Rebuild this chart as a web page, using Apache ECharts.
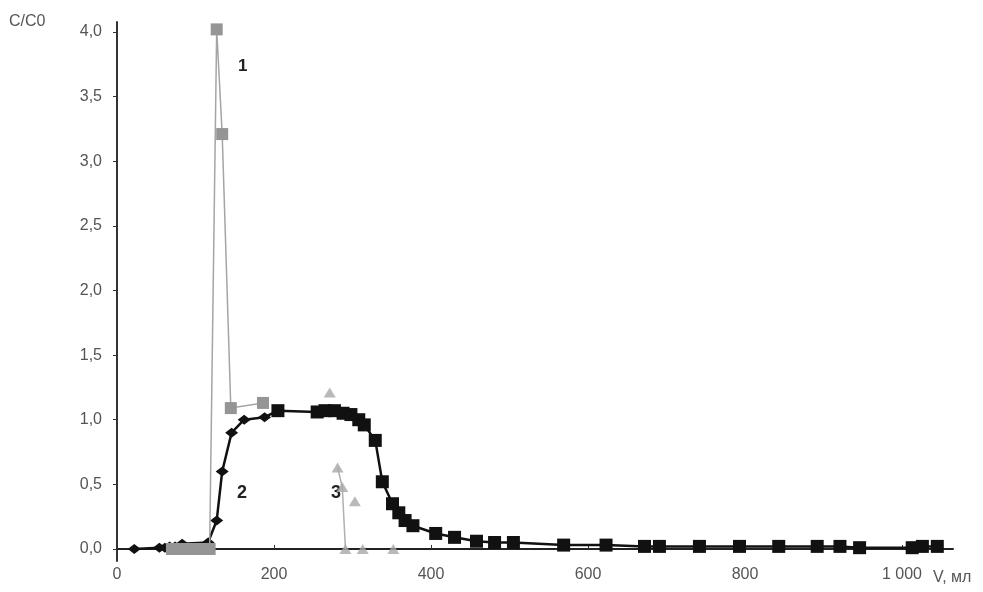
<!DOCTYPE html>
<html><head><meta charset="utf-8">
<script src="https://cdn.jsdelivr.net/npm/echarts@6/dist/echarts.min.js"></script>
<style>html,body{margin:0;padding:0;background:#fff}#c{width:983px;height:592px}</style>
</head><body><div id="c"></div>
<script>
const xTicks = [0, 200, 400, 600, 800, 1000];
const yTicks = [0, 0.5, 1, 1.5, 2, 2.5, 3, 3.5, 4];
const series1 = [[70,0],[78,0],[86,0],[94,0],[102,0],[110,0],[118,0],[127,4.02],[134,3.21],[145,1.09],[186,1.13]];
const series2Diamonds = [[22,0],[54,0.01],[61,0.01],[67,0.02],[74,0.02],[83,0.04],[116,0.05],[127,0.22],[134,0.6],[146,0.9],[162,1.0],[188,1.02]];
const series2Squares = [[205,1.07],[255,1.06],[265,1.07],[277,1.07],[288,1.05],[298,1.04],[308,1.0],[315,0.96],[329,0.84],[338,0.52],[351,0.35],[359,0.28],[367,0.22],[377,0.18],[406,0.12],[430,0.09],[458,0.06],[481,0.05],[505,0.05],[569,0.03],[623,0.03],[672,0.02],[691,0.02],[742,0.02],[793,0.02],[843,0.02],[892,0.02],[921,0.02],[946,0.01],[1013,0.01],[1026,0.02],[1045,0.02]];
const series3Points = [[271,1.21],[281,0.63],[287,0.48],[291,0],[303,0.37],[313,0],[352,0]];
const series3Line = [[281,0.63],[287,0.48],[291,0]];

const chart = echarts.init(document.getElementById('c'));
const labelFont = 'Liberation Sans, Arial, sans-serif';
const s2data = series2Diamonds.map(p => ({value: p, symbol: 'diamond', symbolSize: [13, 10]}))
  .concat(series2Squares.map(p => ({value: p, symbol: 'rect', symbolSize: 13})));

chart.setOption({
  animation: false,
  backgroundColor: '#fff',
  grid: {left: 117, right: 30, top: 22, bottom: 31},
  xAxis: {
    type: 'value', min: 0, max: 1065,
    axisLine: {lineStyle: {color: '#222', width: 2}},
    axisTick: {inside: true, length: 4, lineStyle: {color: '#333'}, customValues: xTicks},
    axisLabel: {customValues: xTicks, color: '#555', fontSize: 16, fontFamily: labelFont, margin: 6,
      formatter: v => v >= 1000 ? '1 000' : String(v)},
    splitLine: {show: false}
  },
  yAxis: {
    type: 'value', min: -0.093, max: 4.077,
    axisLine: {show: true, lineStyle: {color: '#333', width: 2}},
    axisTick: {show: true, inside: false, length: 4, lineStyle: {color: '#333'}, customValues: yTicks},
    axisLabel: {customValues: yTicks, color: '#555', fontSize: 16, fontFamily: labelFont, margin: 15,
      formatter: v => v.toFixed(1).replace('.', ',')},
    splitLine: {show: false}
  },
  graphic: [
    {type: 'text', left: 9, top: 14, style: {text: 'C/C0', font: '16px ' + labelFont, fill: '#555'}},
    {type: 'text', left: 933, top: 570, style: {text: 'V, мл', font: '16px ' + labelFont, fill: '#555'}},
    {type: 'text', left: 238, top: 58, style: {text: '1', font: 'bold 17px ' + labelFont, fill: '#222'}},
    {type: 'text', left: 237, top: 484, style: {text: '2', font: 'bold 18px ' + labelFont, fill: '#222'}},
    {type: 'text', left: 331, top: 484, style: {text: '3', font: 'bold 18px ' + labelFont, fill: '#222'}}
  ],
  series: [
    {type: 'line', data: series3Line, showSymbol: false, symbol: 'none',
      lineStyle: {color: '#b0b0b0', width: 1.5}, z: 1},
    {type: 'scatter', data: series3Points, symbol: 'triangle', symbolSize: [12, 10],
      itemStyle: {color: '#a8a8a8'}, z: 2},
    {type: 'line', data: s2data, showAllSymbol: true,
      lineStyle: {color: '#111', width: 2.5}, itemStyle: {color: '#111'}, z: 3},
    {type: 'line', data: series1, symbol: 'rect', symbolSize: 12, showAllSymbol: true, clip: false,
      lineStyle: {color: '#a5a5a5', width: 1.5}, itemStyle: {color: '#959595'}, z: 4}
  ]
});
</script></body></html>
